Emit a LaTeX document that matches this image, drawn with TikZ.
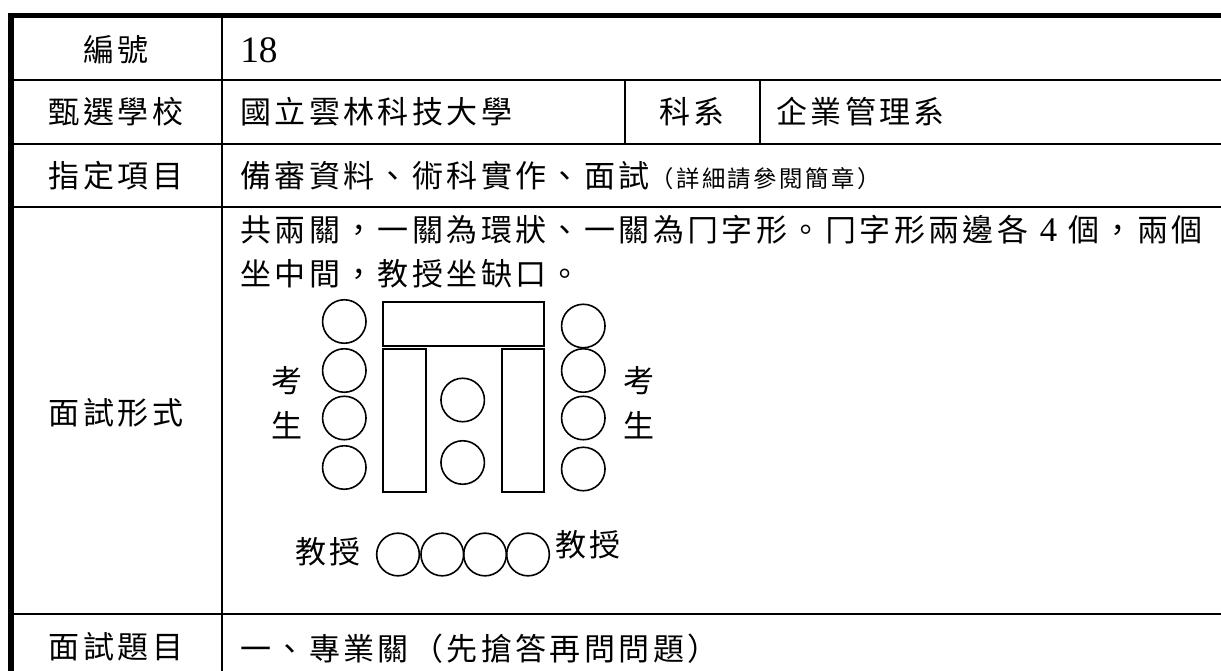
\documentclass[tikz,border=0pt]{standalone}
\usepackage{fontspec}
\newfontfamily\cjk[LetterSpace=11]{Noto Sans CJK TC}
\newfontfamily\numfont{Liberation Serif}
\usetikzlibrary{positioning}

\tikzset{
  x=0.75pt, y=-0.75pt,
  rowline/.style={line width=1.5pt},
  border/.style={line width=4.2pt},
  field/.style={font=\cjk\fontsize{23.25}{23.25}\selectfont, inner sep=0pt},
  entry/.style={field, anchor=west},
  note/.style={font=\cjk\fontsize{17.5}{17.5}\selectfont, inner sep=0pt},
  seat/.style={circle, draw, line width=1.2pt, minimum size=32.6pt, inner sep=0pt},
  desk/.style={draw, line width=1.2pt}
}

\begin{document}
\begin{tikzpicture}
  \useasboundingbox (0,0) rectangle (1221,671);
  \draw[border] (8.3,15.5) -- (1221,15.5);
  \draw[border] (11,13) -- (11,671);
  \draw[rowline] (221.7,15.5) -- (221.7,671);
  \draw[rowline] (11,80) -- (1221,80);
  \draw[rowline] (11,144) -- (1221,144);
  \draw[rowline] (11,206.7) -- (1221,206.7);
  \draw[rowline] (11,614) -- (1221,614);
  \draw[rowline] (625,80) -- (625,144);
  \draw[rowline] (760,80) -- (760,144);

  \node[field] (lab1) at (116,50) {編號};
  \node[entry, font=\numfont\fontsize{28}{28}\selectfont] (val1) at (240,50) {18};
  \node[field] (lab2) at (116,112) {甄選學校};
  \node[entry] (val2) at (240,112) {國立雲林科技大學};
  \node[field] (lab2b) at (692,112) {科系};
  \node[entry] (val2b) at (776,112) {企業管理系};
  \node[field] (lab3) at (116,176) {指定項目};
  \node[entry] (val3) at (240,176) {備審資料、術科實作、面試};
  \node[note, anchor=base west] (val3b) at (val3.base east) {（詳細請參閱簡章）};
  \node[field] (lab4) at (116,413) {面試形式};
  \node[entry] (val4a) at (240,230) {共兩關，一關為環狀、一關為冂字形。冂字形兩邊各\hspace{8.6pt}{\numfont\fontsize{26}{26}\selectfont 4}\hspace{8.6pt}個，兩個};
  \node[entry] (val4b) at (240,274) {坐中間，教授坐缺口。};
  \node[field] (lab5) at (116,647) {面試題目};
  \node[entry] (val5) at (240,649) {一、專業關（先搶答再問問題）};

  \draw[desk] (382.7,301.7) rectangle (544,346);
  \draw[desk] (382.7,348.7) rectangle (426,491.7);
  \draw[desk] (501.7,348.7) rectangle (544,491.7);
  \node[seat] (l1) at (344.3,321.5) {};
  \node[seat] (l2) at (344.3,370.5) {};
  \node[seat] (l3) at (344.3,418) {};
  \node[seat] (l4) at (344.3,467.5) {};
  \node[seat] (r1) at (583.3,326) {};
  \node[seat] (r2) at (583.3,370.5) {};
  \node[seat] (r3) at (583.3,418) {};
  \node[seat] (r4) at (583.3,469) {};
  \node[seat] (m1) at (462.7,400) {};
  \node[seat] (m2) at (462.7,462.5) {};
  \node[field] (kao1) at (286.7,381) {考};
  \node[field, below=12pt of kao1] (sheng1) {生};
  \node[field] (kao2) at (639,381) {考};
  \node[field, below=12pt of kao2] (sheng2) {生};

  \node[seat, minimum size=32pt] (b1) at (398,554.5) {};
  \node[seat, minimum size=32pt] (b2) at (442.3,554.5) {};
  \node[seat, minimum size=32pt] (b3) at (485,554.5) {};
  \node[seat, minimum size=32pt] (b4) at (528,554.5) {};
  \node[field] (prof1) at (328,552) {教授};
  \node[field] (prof2) at (588,545) {教授};
\end{tikzpicture}
\end{document}
